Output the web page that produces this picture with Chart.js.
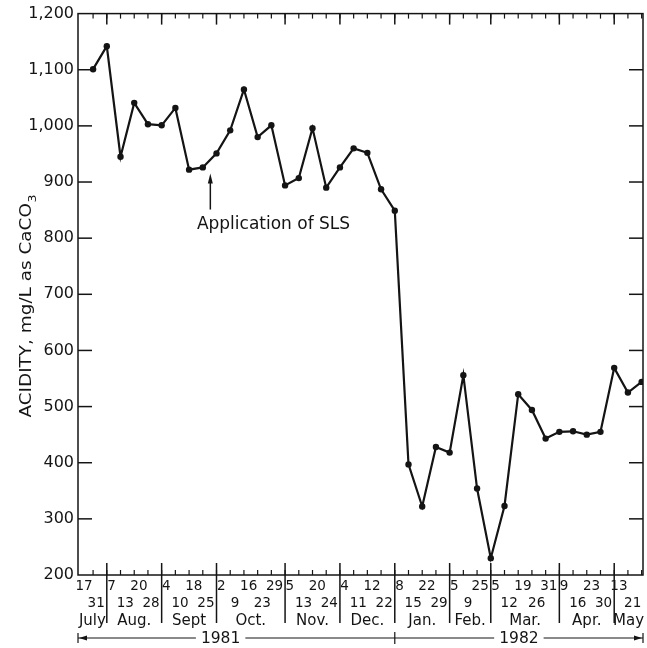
<!DOCTYPE html>
<html>
<head>
<meta charset="utf-8">
<script src="https://cdn.jsdelivr.net/npm/chart.js@4/dist/chart.umd.min.js"></script>
<style>
    html, body { margin: 0; padding: 0; background: #fff; }
    #wrap { position: relative; width: 647px; height: 648px; }
</style>
</head>
<body>
<div id="wrap"><canvas id="acidityCanvas"></canvas></div>
<script>
// sampling dates, grouped by month (Jul 1981 - May 1982)
const sampleDays   = ['17','31', '7','13','20','28', '4','10','18','25', '2','9','16','23','29',
                      '5','13','20','24', '4','11','12','22', '8','15','22','29', '5','9','25',
                      '5','12','19','26','31', '9','16','23','30', '13','21'];
const months       = ['July', 'Aug.', 'Sept', 'Oct.', 'Nov.', 'Dec.', 'Jan.', 'Feb.', 'Mar.', 'Apr.', 'May'];
const monthSamples = [2, 4, 4, 5, 4, 4, 4, 3, 5, 4, 2];
const years        = ['1981', '1982'];
const yearMonths   = [6, 5];   // months falling in each year

// acidity, mg/L as CaCO3
const acidity = [1101, 1142, 945, 1041, 1003, 1001, 1032, 922, 926, 951,
                 992, 1065, 980, 1001, 894, 907, 996, 890, 926, 960,
                 952, 887, 849, 397, 322, 428, 418, 556, 354, 230,
                 323, 522, 494, 443, 455, 456, 450, 455, 569, 525, 544];

const yTicks = [200, 300, 400, 500, 600, 700, 800, 900, 1000, 1100, 1200];
const yTitle = 'ACIDITY, mg/L as CaCO';
const note   = 'Application of SLS';
const noteAt = 8.55;   // between Sept 18 and Sept 25

const ink  = '#141414';
const face = '"DejaVu Sans", sans-serif';

// index of the last sample in each month
const monthEnds = [];
monthSamples.reduce((sum, n) => { monthEnds.push(sum + n - 1); return sum + n; }, 0);

function seg(ctx, x1, y1, x2, y2) {
    ctx.beginPath();
    ctx.moveTo(x1, y1);
    ctx.lineTo(x2, y2);
    ctx.stroke();
}

const framePlugin = {
    id: 'frame',
    beforeDatasetsDraw(chart) {
        const { ctx, chartArea: a, scales: { x, y } } = chart;
        ctx.save();
        ctx.strokeStyle = ink;
        ctx.lineWidth = 1.5;
        ctx.strokeRect(a.left, a.top, a.right - a.left, a.bottom - a.top);

        // value ticks, inside on both sides
        yTicks.slice(1, -1).forEach(v => {
            const py = y.getPixelForValue(v);
            seg(ctx, a.left, py, a.left + 14, py);
            seg(ctx, a.right - 14, py, a.right, py);
        });

        // sample ticks, top and bottom
        ctx.lineWidth = 1.2;
        acidity.forEach((_, i) => {
            const px = x.getPixelForValue(i);
            seg(ctx, px, a.top, px, a.top + 5);
            seg(ctx, px, a.bottom, px, a.bottom - 5);
        });

        // month dividers
        ctx.lineWidth = 1.5;
        monthEnds.slice(0, -1).forEach(i => {
            const px = x.getPixelForValue(i);
            seg(ctx, px, a.top, px, a.top + 11);
            seg(ctx, px, a.bottom - 12, px, a.bottom + 48);
        });
        ctx.restore();
    },
    afterDatasetsDraw(chart) {
        const { ctx, chartArea: a, scales: { x, y } } = chart;
        ctx.save();
        ctx.fillStyle = ink;
        ctx.strokeStyle = ink;

        // sampling days, two staggered rows
        ctx.font = '13.5px ' + face;
        ctx.textBaseline = 'middle';
        let start = 0;
        monthSamples.forEach((n, m) => {
            for (let k = 0; k < n; k++) {
                const i = start + k;
                const px = x.getPixelForValue(i);
                const rowY = k % 2 === 0 ? a.bottom + 11 : a.bottom + 28;
                if (k === n - 1 && m < monthSamples.length - 1) {
                    ctx.textAlign = 'right';
                    ctx.fillText(sampleDays[i], px - 2, rowY);
                } else {
                    ctx.textAlign = 'center';
                    ctx.fillText(sampleDays[i], px - 9, rowY);
                }
            }
            start += n;
        });

        // month names
        ctx.font = '15px ' + face;
        ctx.textAlign = 'center';
        months.forEach((name, m) => {
            const l = m === 0 ? a.left : x.getPixelForValue(monthEnds[m - 1]);
            const r = m === months.length - 1 ? a.right : x.getPixelForValue(monthEnds[m]);
            ctx.fillText(name, (l + r) / 2, a.bottom + 46);
        });

        // year row
        const yy = a.bottom + 63;
        const split = x.getPixelForValue(monthEnds[yearMonths[0] - 1]);
        ctx.font = '15.5px ' + face;
        ctx.lineWidth = 1.2;
        const spans = [[a.left, split, x.getPixelForValue(9.3)], [split, a.right, (split + a.right) / 2]];
        spans.forEach(([l, r, c], k) => {
            const w = ctx.measureText(years[k]).width / 2 + 5;
            ctx.fillText(years[k], c, yy + 1);
            seg(ctx, l, yy, c - w, yy);
            seg(ctx, c + w, yy, r, yy);
        });
        seg(ctx, a.left, yy - 5, a.left, yy + 5);
        seg(ctx, a.right, yy - 5, a.right, yy + 5);
        seg(ctx, split, yy - 6, split, yy + 6);
        ctx.beginPath();
        ctx.moveTo(a.left + 1, yy); ctx.lineTo(a.left + 9, yy - 2.5); ctx.lineTo(a.left + 9, yy + 2.5); ctx.closePath();
        ctx.moveTo(a.right - 1, yy); ctx.lineTo(a.right - 9, yy - 2.5); ctx.lineTo(a.right - 9, yy + 2.5); ctx.closePath();
        ctx.fill();

        // application note with arrow
        const ax = x.getPixelForValue(noteAt);
        const aTop = y.getPixelForValue(915);
        const aBot = y.getPixelForValue(851);
        ctx.lineWidth = 1.5;
        seg(ctx, ax, aTop + 6, ax, aBot);
        ctx.beginPath();
        ctx.moveTo(ax, aTop); ctx.lineTo(ax - 2.5, aTop + 10); ctx.lineTo(ax + 2.5, aTop + 10); ctx.closePath();
        ctx.fill();
        ctx.font = '17px ' + face;
        ctx.textAlign = 'left';
        ctx.textBaseline = 'middle';
        ctx.fillText(note, x.getPixelForValue(7.57), y.getPixelForValue(825));

        // axis title, rotated and slightly widened, with subscript 3
        ctx.font = '16px ' + face;
        const main = ctx.measureText(yTitle).width;
        ctx.font = '11px ' + face;
        const sub = ctx.measureText('3').width;
        ctx.translate(27, (a.top + a.bottom) / 2 + 12);
        ctx.rotate(-Math.PI / 2);
        ctx.scale(1.15, 1);
        ctx.textAlign = 'left';
        ctx.font = '16px ' + face;
        const x0 = -(main + sub) / 2;
        ctx.fillText(yTitle, x0, 0);
        ctx.font = '11px ' + face;
        ctx.fillText('3', x0 + main + 0.5, 6);
        ctx.restore();
    }
};

new Chart(document.getElementById('acidityCanvas'), {
    type: 'line',
    data: {
        datasets: [{
            data: acidity.map((v, i) => ({ x: i, y: v })),
            borderColor: ink,
            borderWidth: 2.2,
            pointRadius: 3.2,
            pointBackgroundColor: ink,
            pointBorderWidth: 0,
            tension: 0,
        }],
    },
    options: {
        responsive: true,
        maintainAspectRatio: false,
        animation: false,
        layout: { padding: { top: 13, right: 2, left: 0, bottom: 0 } },
        plugins: { legend: { display: false }, tooltip: { enabled: false } },
        scales: {
            x: {
                type: 'linear',
                min: -1.1,
                max: 40.1,
                grid: { display: false, drawTicks: false },
                border: { display: false },
                ticks: { display: false },
                afterFit: s => { s.height = 73; },
            },
            y: {
                min: yTicks[0],
                max: yTicks[yTicks.length - 1],
                afterBuildTicks: s => { s.ticks = yTicks.map(v => ({ value: v })); },
                grid: { display: false, drawTicks: false },
                border: { display: false },
                ticks: {
                    color: ink,
                    padding: 4,
                    font: { family: 'DejaVu Sans', size: 16 },
                    callback: v => v.toLocaleString('en-US'),
                },
                afterFit: s => { s.width = 78; },
            },
        },
    },
    plugins: [framePlugin],
});
</script>
</body>
</html>
